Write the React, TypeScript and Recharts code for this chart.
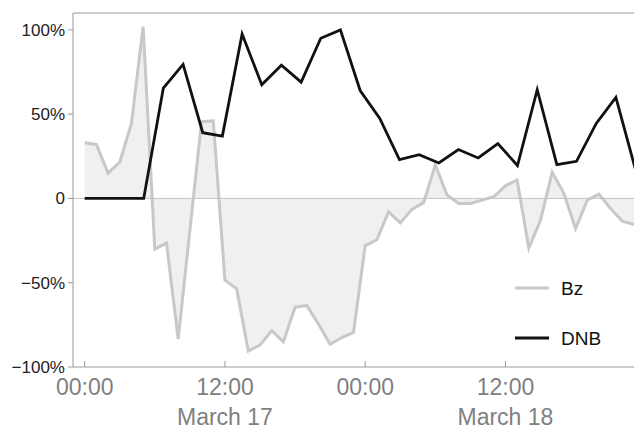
import {
  ComposedChart,
  Area,
  Line,
  XAxis,
  YAxis,
  ReferenceLine,
} from "recharts";

// hours since March 17 00:00
const BZ_HOURS = [
  0, 1, 2, 3, 4, 5, 6, 7, 8, 9, 10, 11, 12, 13, 14, 15, 16, 17, 18, 19, 20, 21, 22, 23,
  24, 25, 26, 27, 28, 29, 30, 31, 32, 33, 34, 35, 36, 37, 38, 39, 40, 41, 42, 43, 44, 45, 46, 47,
];
const BZ_VALUES = [
  33, 32, 15, 21.5, 44.5, 102, -30, -26.5, -83.5, -19, 45.5, 46, -48.5, -53.5, -90.5, -87,
  -78.5, -85, -64.5, -63.5, -74.5, -86.5, -82.5, -79.5, -28, -24.5, -8, -14.5, -6.5, -2.5, 20, 2,
  -3, -3, -1, 1, 7.5, 11, -29.5, -13, 15.5, 3, -18, -1, 2.5, -6, -13.5, -15.5,
];

// DNB passes, roughly every 101 minutes
const DNB_HOURS = [
  0, 1.68, 3.37, 5.05, 6.73, 8.42, 10.1, 11.78, 13.47, 15.15, 16.83, 18.52, 20.2, 21.88, 23.57,
  25.25, 26.93, 28.62, 30.3, 31.98, 33.67, 35.35, 37.03, 38.72, 40.4, 42.08, 43.77, 45.45, 47.13,
];
const DNB_VALUES = [
  0, 0, 0, 0, 65.5, 79.5, 39, 37, 97.5, 67.5, 79, 69, 95, 100, 64, 47.5, 23, 26, 21, 29, 24,
  32.5, 19.5, 64.5, 20, 22, 44.5, 60, 17,
];

const X_TICKS = [0, 12, 24, 36];
const TIME_LABELS: Record<number, string> = { 0: "00:00", 12: "12:00", 24: "00:00", 36: "12:00" };
const DATE_LABELS: Record<number, string> = { 12: "March 17", 36: "March 18" };
const Y_TICKS = [-100, -50, 0, 50, 100];
const SERIES = [
  { name: "Bz", color: "#c8c8c8" },
  { name: "DNB", color: "#111" },
];

const bzData = BZ_HOURS.map((h, i) => ({ h, v: BZ_VALUES[i] }));
const dnbData = DNB_HOURS.map((h, i) => ({ h, v: DNB_VALUES[i] }));

const FONT = "'Liberation Sans', Arial, Helvetica, sans-serif";

const fmtY = (v: number) => (v === 0 ? "0" : v < 0 ? `\u2212${Math.abs(v)}%` : `${v}%`);

function TimeTick(props: any) {
  const { x, y, payload } = props;
  const v = payload.value as number;
  return (
    <g>
      <line x1={x} y1={y} x2={x} y2={y - 6} stroke="#999" strokeWidth={1} />
      <text x={x} y={y + 28} textAnchor="middle" fill="#808080" fontSize={23} fontFamily={FONT}>
        {TIME_LABELS[v]}
      </text>
      {DATE_LABELS[v] && (
        <text x={x} y={y + 58} textAnchor="middle" fill="#808080" fontSize={23} fontFamily={FONT}>
          {DATE_LABELS[v]}
        </text>
      )}
    </g>
  );
}

function LegendBox() {
  return (
    <svg
      width={110}
      height={80}
      style={{ position: "absolute", left: 515, top: 276 }}
    >
      {SERIES.map((it, i) => (
        <g key={it.name} transform={`translate(0, ${12 + i * 50})`}>
          <line x1={0} y1={0} x2={34} y2={0} stroke={it.color} strokeWidth={3} />
          <text x={46} y={7} fontSize={19} fontFamily={FONT} fill="#111">
            {it.name}
          </text>
        </g>
      ))}
    </svg>
  );
}

export default function App() {
  return (
    <div style={{ position: "absolute", left: 0, top: 0, width: 634, height: 431, background: "#fff" }}>
      <ComposedChart width={634} height={431} margin={{ top: 13, right: 0, bottom: 0, left: 0 }}>
        <XAxis
          type="number"
          dataKey="h"
          domain={[-1, 47]}
          allowDataOverflow
          ticks={X_TICKS}
          tick={<TimeTick />}
          tickLine={false}
          tickSize={0}
          tickMargin={0}
          axisLine={{ stroke: "#999" }}
          height={64}
        />
        <YAxis
          type="number"
          domain={[-100, 110]}
          allowDataOverflow
          ticks={Y_TICKS}
          tickFormatter={fmtY}
          width={73}
          tickSize={5}
          tickMargin={3}
          tick={{ fontSize: 17, fill: "#222", fontFamily: FONT }}
          tickLine={{ stroke: "#999" }}
          axisLine={{ stroke: "#999" }}
        />
        <ReferenceLine y={110} stroke="#bbb" strokeWidth={1.5} />
        <Area
          data={bzData}
          dataKey="v"
          type="linear"
          baseValue={0}
          stroke="#c8c8c8"
          strokeWidth={3}
          fill="#f0f0f0"
          fillOpacity={1}
          dot={false}
          activeDot={false}
          isAnimationActive={false}
        />
        <ReferenceLine y={0} stroke="#c4c4c4" strokeWidth={1} />
        <Line
          data={dnbData}
          dataKey="v"
          type="linear"
          stroke="#111"
          strokeWidth={2.8}
          dot={false}
          activeDot={false}
          isAnimationActive={false}
        />
      </ComposedChart>
      <LegendBox />
    </div>
  );
}
